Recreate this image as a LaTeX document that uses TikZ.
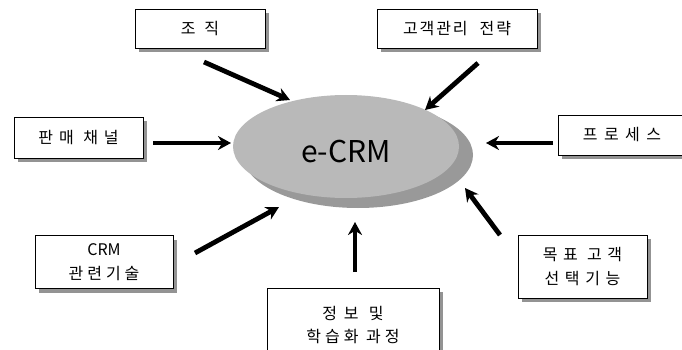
\documentclass[tikz,border=0pt]{standalone}
\usepackage{fontspec}
\setmainfont{Noto Sans CJK KR}
\usetikzlibrary{shadows,arrows.meta}
\newcommand{\ls}[2]{{\addfontfeature{LetterSpace=#1}#2}}
\begin{document}
\begin{tikzpicture}[x=1pt,y=-1pt,
  boxnode/.style={draw=black, line width=0.9pt, fill=white, rectangle, align=center,
    font=\fontsize{16}{23.5}\selectfont,
    drop shadow={shadow xshift=4pt, shadow yshift=-4pt, fill=gray!85, opacity=1}},
  bigarrow/.style={line width=4.8pt, black, -{Stealth[length=13pt,width=14pt]}}]
\useasboundingbox (0,0) rectangle (682,350);
\clip (0,0) rectangle (682,350);
% boxes
\node[boxnode, minimum width=130pt, minimum height=39pt] (org) at (200,28.5) {\ls{55}{조직}};
\node[boxnode, minimum width=160pt, minimum height=39pt] (strat) at (457,28.5) {\ls{12}{고객관리}\hspace{0.75em}\ls{12}{전략}};
\node[boxnode, minimum width=129pt, minimum height=41pt] (sales) at (78.5,137.5) {\ls{37}{판매 채널}};
\node[boxnode, minimum width=128pt, minimum height=40pt] (proc) at (622,135) {\ls{40}{프로세스}};
\node[boxnode, minimum width=138pt, minimum height=53pt] (tech) at (104,262) {CRM\\\ls{25}{관련기술}};
\node[boxnode, minimum width=129pt, minimum height=63pt] (target) at (582.5,266.5) {\ls{35}{목표 고객}\\\ls{35}{선택기능}};
\node[boxnode, minimum width=172pt, minimum height=74pt] (info) at (353,325) {\ls{42}{정보 및}\\\ls{25}{학습화 과정}};
% central ellipse with shadow
\fill[gray!80] (358,155) ellipse [x radius=115, y radius=53];
\fill[gray!55] (346,146.5) ellipse [x radius=113, y radius=51.5];
\node[font=\fontsize{30}{31}\selectfont, inner sep=0pt] (ecrm) at (346,152) {e-CRM};
% arrow coordinates
\coordinate (a1s) at (204,62);  \coordinate (a1e) at (290,100);
\coordinate (a2s) at (478,63);  \coordinate (a2e) at (425,110);
\coordinate (a3s) at (153,143); \coordinate (a3e) at (231,143);
\coordinate (a4s) at (553,143); \coordinate (a4e) at (486,143);
\coordinate (a5s) at (195,253); \coordinate (a5e) at (279,207);
\coordinate (a6s) at (500,235); \coordinate (a6e) at (465,188);
\coordinate (a7s) at (355,272); \coordinate (a7e) at (355,222);
\draw[bigarrow] (a1s) -- (a1e);
\draw[bigarrow] (a2s) -- (a2e);
\draw[bigarrow] (a3s) -- (a3e);
\draw[bigarrow] (a4s) -- (a4e);
\draw[bigarrow] (a5s) -- (a5e);
\draw[bigarrow] (a6s) -- (a6e);
\draw[bigarrow] (a7s) -- (a7e);
\end{tikzpicture}
\end{document}
